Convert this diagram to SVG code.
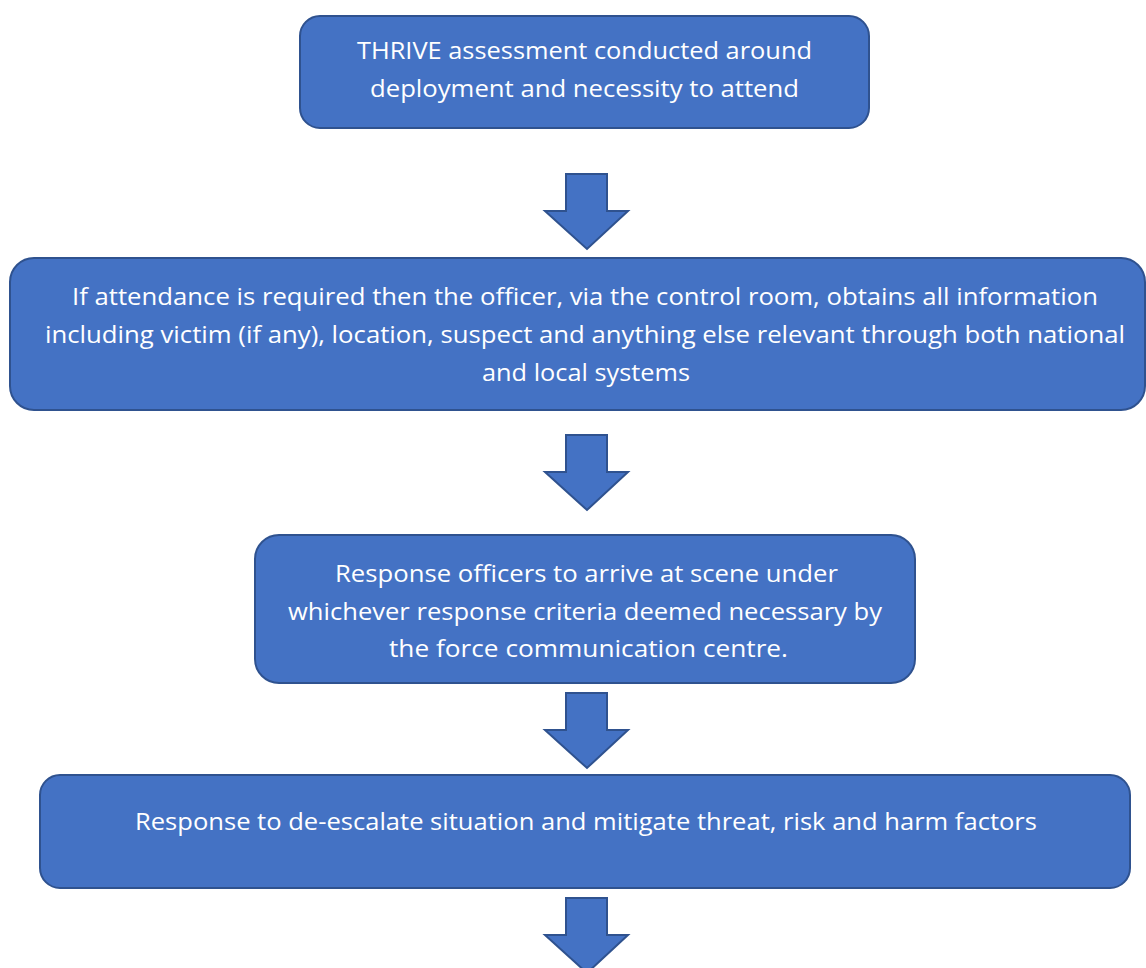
<svg xmlns="http://www.w3.org/2000/svg" width="1146" height="968" viewBox="0 0 1146 968">
<style>
.box{fill:#4472C4;stroke:#2F528F;stroke-width:2}
.arr{fill:#4472C4;stroke:#2F528F;stroke-width:2;stroke-linejoin:miter}
text{font-family:"Open Sans","Liberation Sans",sans-serif;font-size:23.5px;fill:#FFFFFF}
</style>
<rect width="1146" height="968" fill="#FFFFFF"/>
<g id="connectors">
<polygon class="arr" points="566,174 607,174 607,211 628,211 587,249 545,211 566,211"/>
<polygon class="arr" points="566,435 607,435 607,472 628,472 587,510 545,472 566,472"/>
<polygon class="arr" points="566,693 607,693 607,730 628,730 587,768 545,730 566,730"/>
<polygon class="arr" points="566,898 607,898 607,935 628,935 587,973 545,935 566,935"/>
</g>
<g id="node1">
<rect class="box" x="300" y="16" width="569" height="112" rx="20"/>
<text x="357" y="59" textLength="455" lengthAdjust="spacingAndGlyphs">THRIVE assessment conducted around</text>
<text x="370" y="97" textLength="429" lengthAdjust="spacingAndGlyphs">deployment and necessity to attend</text>
</g>
<g id="node2">
<rect class="box" x="10" y="258" width="1135" height="152" rx="24"/>
<text x="72" y="305" textLength="1026" lengthAdjust="spacingAndGlyphs">If attendance is required then the officer, via the control room, obtains all information</text>
<text x="45" y="343" textLength="1080" lengthAdjust="spacingAndGlyphs">including victim (if any), location, suspect and anything else relevant through both national</text>
<text x="482" y="381" textLength="208" lengthAdjust="spacingAndGlyphs">and local systems</text>
</g>
<g id="node3">
<rect class="box" x="255" y="535" width="660" height="148" rx="24"/>
<text x="335" y="582" textLength="503" lengthAdjust="spacingAndGlyphs">Response officers to arrive at scene under</text>
<text x="288" y="620" textLength="594" lengthAdjust="spacingAndGlyphs">whichever response criteria deemed necessary by</text>
<text x="389" y="657" textLength="399" lengthAdjust="spacingAndGlyphs">the force communication centre.</text>
</g>
<g id="node4">
<rect class="box" x="40" y="775" width="1090" height="113" rx="20"/>
<text x="135" y="830" textLength="902" lengthAdjust="spacingAndGlyphs">Response to de-escalate situation and mitigate threat, risk and harm factors</text>
</g>
</svg>
